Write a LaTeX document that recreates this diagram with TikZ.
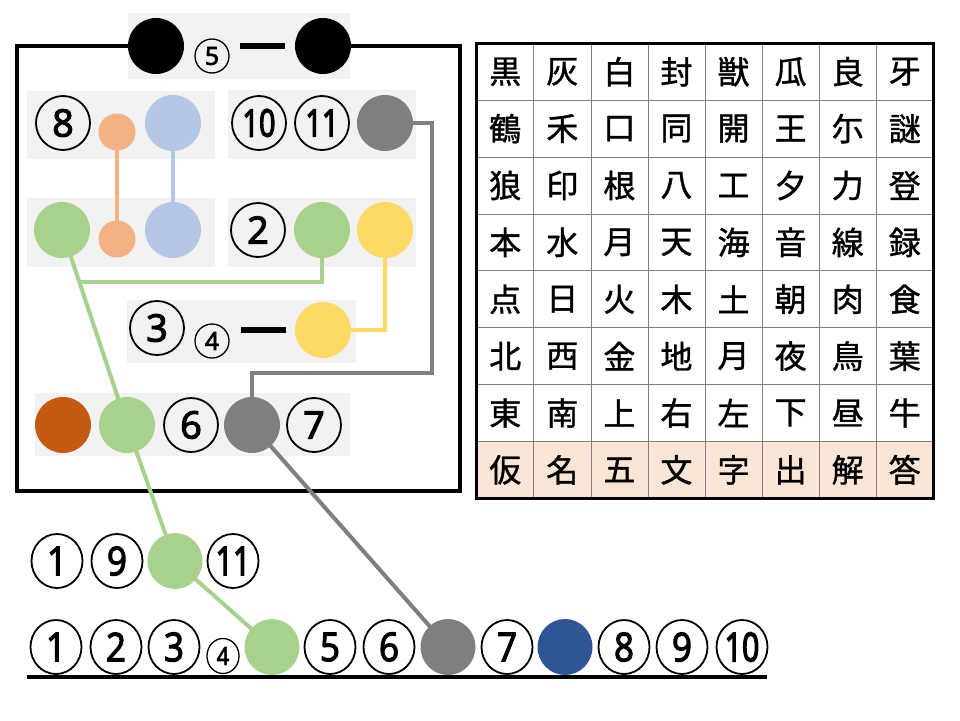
\documentclass[tikz,border=0pt]{standalone}
\usepackage{fontspec}
\newfontfamily\jfont[FakeBold=1.2]{Noto Sans CJK JP}
\newfontfamily\numfont[FakeBold=2.5]{Noto Sans}
\newfontfamily\numfontb[FakeBold=3.5]{Noto Sans}
\usetikzlibrary{calc,shapes.geometric}
\definecolor{boxgray}{HTML}{F2F2F2}
\definecolor{cgreen}{HTML}{A9D18E}
\definecolor{corange}{HTML}{F4B183}
\definecolor{cblue}{HTML}{B4C7E7}
\definecolor{cgray}{HTML}{7F7F7F}
\definecolor{cyellow}{HTML}{FFD966}
\definecolor{cbrown}{HTML}{C55A11}
\definecolor{cdblue}{HTML}{2F5597}
\definecolor{cpeach}{HTML}{FBE5D6}
\definecolor{gridgray}{HTML}{808080}
\pgfdeclarelayer{back}
\pgfdeclarelayer{mid}
\pgfsetlayers{back,mid,main}
\tikzset{
  cn/.style={circle, draw, line width=1.8pt, minimum size=54pt, inner sep=0pt, font=\numfont\fontsize{38}{38}\selectfont},
  cns/.style={circle, draw, line width=1.3pt, minimum size=34pt, inner sep=0pt, font=\numfont\fontsize{25}{25}\selectfont},
  cnb/.style={ellipse, draw, line width=1.8pt, minimum width=51pt, minimum height=54pt, inner sep=0pt, font=\numfont\fontsize{40}{40}\selectfont},
  cnbs/.style={ellipse, draw, line width=1.3pt, minimum width=32pt, minimum height=35pt, inner sep=0pt, font=\numfont\fontsize{25}{25}\selectfont},
  dot/.style={circle, minimum size=56pt, inner sep=0pt},
  sdot/.style={circle, minimum size=37pt, inner sep=0pt},
  bdot/.style={ellipse, minimum width=55pt, minimum height=56pt, inner sep=0pt},
  dashbar/.style={rectangle, fill=black, minimum width=45pt, minimum height=6.5pt, inner sep=0pt},
  conn/.style={line width=4pt},
  kanji/.style={font=\jfont\fontsize{32}{32}\selectfont, inner sep=0pt},
  gbox/.style={fill=boxgray},
}
\newcommand{\nar}[1]{{\numfontb\scalebox{0.76}[1]{#1}}}
\newcommand{\nrw}[1]{\scalebox{0.88}[1]{#1}}
\begin{document}
\begin{tikzpicture}[x=1pt,y=-1pt]
\useasboundingbox (0,0) rectangle (960,720);

% frame
\begin{pgfonlayer}{back}
\draw[line width=4pt] (17,46) rectangle (460,491);
\fill[gbox] (128,13) rectangle (350,79);
\fill[gbox] (27,91) rectangle (215,159);
\fill[gbox] (228,90) rectangle (416,159);
\fill[gbox] (27,198) rectangle (215,267);
\fill[gbox] (228,198) rectangle (416,267);
\fill[gbox] (127,300) rectangle (356,363);
\fill[gbox] (35,393) rectangle (350,456);
\end{pgfonlayer}

% top group
\node[dot, fill=black] (k1) at (156,46) {};
\node[cns] (n5) at (212,56) {5};
\node[dashbar] (d1) at (262.5,46) {};
\node[dot, fill=black] (k2) at (323,46) {};

% box A
\node[cn] (n8) at (63,123) {8};
\node[sdot, fill=corange] (o1) at (117,132) {};
\node[dot, fill=cblue] (b1) at (173,123) {};
% box B
\node[cn] (n10) at (259,123) {\nar{10}};
\node[cn] (n11) at (322,123) {\nar{11}};
\node[dot, fill=cgray] (gr1) at (385,123) {};
% box C
\node[dot, fill=cgreen] (g1) at (62,230) {};
\node[sdot, fill=corange] (o2) at (117,239) {};
\node[dot, fill=cblue] (b2) at (173,230) {};
% box D
\node[cn] (n2) at (258,230) {2};
\node[dot, fill=cgreen] (g2) at (322,230) {};
\node[dot, fill=cyellow] (y1) at (385,230) {};
% box E
\node[cn] (n3) at (157,328) {3};
\node[cns] (n4) at (212,341) {4};
\node[dashbar] (d2) at (263.5,330) {};
\node[dot, fill=cyellow] (y2) at (323,330) {};
% box F
\node[dot, fill=cbrown] (br) at (63,425) {};
\node[dot, fill=cgreen] (gm) at (127,425) {};
\node[cn] (n6) at (191,425) {6};
\node[dot, fill=cgray] (gr2) at (252,425) {};
\node[cn] (n7) at (314,425) {7};

% row G
\node[cnb] (m1) at (57,561) {\nrw{1}};
\node[cnb] (m9) at (117,561) {\nrw{9}};
\node[bdot, fill=cgreen] (g3) at (175,561) {};
\node[cnb] (m11) at (233,561) {\nar{11}};

% row H
\node[cnb] (p1) at (56,647) {\nrw{1}};
\node[cnb] (p2) at (116,647) {\nrw{2}};
\node[cnb] (p3) at (174,647) {\nrw{3}};
\node[cnbs] (p4) at (223,656) {\nrw{4}};
\node[bdot, fill=cgreen] (g4) at (272,647) {};
\node[cnb] (p5) at (330,647) {\nrw{5}};
\node[cnb] (p6) at (389,647) {\nrw{6}};
\node[bdot, fill=cgray] (gr3) at (448,647) {};
\node[cnb] (p7) at (507,647) {\nrw{7}};
\node[bdot, fill=cdblue] (db) at (565,647) {};
\node[cnb] (p8) at (624,647) {\nrw{8}};
\node[cnb] (p9) at (682,647) {\nrw{9}};
\node[cnb] (p10) at (742,647) {\nar{10}};

\coordinate (ul1) at (27,677);
\coordinate (ul2) at (767,677);
\draw[line width=3.2pt] (ul1) -- (ul2);

% connectors
\coordinate (gA) at (432,373);
\coordinate (gj) at ($(g1.center)!0.267!(gm.center)$);
\begin{pgfonlayer}{mid}
\draw[conn, corange] (o1.center) -- (o2.center);
\draw[conn, cblue] (b1.center) -- (b2.center);
\draw[conn, cgray] (gr1.center) -| (gA) -| (gr2.center);
\draw[conn, cgreen] (g2.center) |- (gj);
\draw[conn, cyellow] (y1.center) |- (y2.center);
\draw[conn, cgreen] (g1.center) -- (gm.center) -- (g3.center) -- (g4.center);
\draw[conn, cgray] (gr2.center) -- (gr3.center);
\end{pgfonlayer}

% table
\fill[cpeach] (476.7,440.7) rectangle (933.3,498.3);
\foreach \i in {1,...,7} {
  \draw[gridgray, line width=0.7pt] ({476.7+\i*57.075},43.3) -- ({476.7+\i*57.075},498.3);
  \draw[gridgray, line width=0.7pt] (476.7,{43.3+\i*56.875}) -- (933.3,{43.3+\i*56.875});
}
\draw[line width=3pt] (476.7,43.3) rectangle (933.3,498.3);
\foreach \row [count=\r] in {{黒,灰,白,封,獣,瓜,良,牙},{鶴,禾,口,同,開,王,尓,謎},{狼,印,根,八,工,夕,力,登},{本,水,月,天,海,音,線,録},{点,日,火,木,土,朝,肉,食},{北,西,金,地,月,夜,鳥,葉},{東,南,上,右,左,下,昼,牛},{仮,名,五,文,字,出,解,答}} {
  \foreach \ch [count=\c] in \row {
    \node[kanji] (t-\r-\c) at ({476.7+(\c-0.5)*57.075},{43.3+(\r-0.5)*56.875}) {\ch};
  }
}
\end{tikzpicture}
\end{document}
